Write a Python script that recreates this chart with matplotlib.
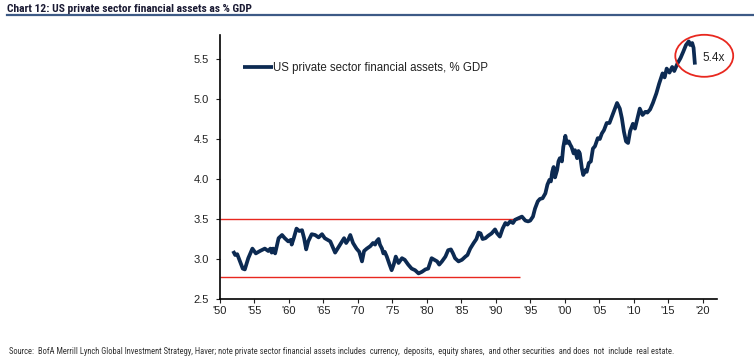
import matplotlib
matplotlib.use("Agg")
import matplotlib.pyplot as plt
from matplotlib import font_manager as fm
from matplotlib.patches import Ellipse
from matplotlib.lines import Line2D

# ---------------- data ----------------
years = [1951.9, 1952.2, 1952.5, 1952.9, 1953.3, 1953.6, 1954.1, 1954.7, 1955.2, 1955.8,
         1956.5, 1957.0, 1957.3, 1957.5, 1957.7, 1958.0, 1958.5, 1959.0, 1959.4, 1959.9,
         1960.3, 1960.4, 1960.7, 1961.1, 1961.5, 1961.9, 1962.2, 1962.5, 1962.8, 1963.3,
         1963.8, 1964.3, 1964.8, 1965.2, 1966.0, 1966.7, 1967.2, 1967.7, 1968.0, 1968.3,
         1968.6, 1968.9, 1969.3, 1969.8, 1970.2, 1970.6, 1970.9, 1971.3, 1971.8, 1972.2,
         1972.5, 1972.7, 1973.0, 1973.2, 1973.5, 1973.7, 1973.9, 1974.2, 1974.6, 1974.9,
         1975.2, 1975.5, 1975.9, 1976.4, 1976.8, 1977.3, 1977.8, 1978.3, 1978.8, 1979.3,
         1979.8, 1980.2, 1980.7, 1981.1, 1981.5, 1981.8, 1982.2, 1982.7, 1983.1, 1983.5,
         1983.8, 1984.1, 1984.6, 1985.1, 1985.6, 1985.9, 1986.3, 1986.8, 1987.2, 1987.5,
         1987.8, 1988.1, 1988.5, 1988.9, 1989.4, 1989.9, 1990.2, 1990.6, 1991.0, 1991.4,
         1991.7, 1992.1, 1992.5, 1992.8, 1993.3, 1993.8, 1994.3, 1994.7, 1995.0, 1995.4,
         1995.7, 1996.1, 1996.4, 1996.8, 1997.2, 1997.5, 1997.8, 1998.0, 1998.2, 1998.4,
         1998.6, 1998.9, 1999.1, 1999.3, 1999.6, 1999.8, 2000.1, 2000.3, 2000.6, 2000.8,
         2001.0, 2001.3, 2001.5, 2001.8, 2002.0, 2002.2, 2002.5, 2002.7, 2003.0, 2003.2,
         2003.5, 2003.8, 2004.1, 2004.4, 2004.8, 2005.1, 2005.4, 2005.7, 2006.1, 2006.5,
         2006.9, 2007.2, 2007.6, 2008.0, 2008.3, 2008.6, 2008.9, 2009.2, 2009.5, 2009.9,
         2010.2, 2010.6, 2010.9, 2011.3, 2011.7, 2012.0, 2012.4, 2012.8, 2013.3, 2013.7,
         2014.2, 2014.5, 2014.8, 2015.2, 2015.6, 2015.9, 2016.4, 2016.8, 2017.2, 2017.6,
         2018.0, 2018.2, 2018.5, 2018.7, 2018.9]
assets_gdp = [3.10, 3.05, 3.06, 2.97, 2.88, 2.87, 3.01, 3.13, 3.07, 3.10,
              3.13, 3.10, 3.13, 3.08, 3.13, 3.07, 3.26, 3.30, 3.26, 3.22,
              3.24, 3.18, 3.26, 3.38, 3.35, 3.36, 3.26, 3.12, 3.22, 3.31,
              3.30, 3.27, 3.31, 3.26, 3.22, 3.08, 3.15, 3.22, 3.26, 3.20,
              3.24, 3.30, 3.20, 3.13, 3.09, 2.97, 3.10, 3.13, 3.16, 3.20,
              3.18, 3.22, 3.25, 3.18, 3.13, 3.07, 3.09, 3.03, 2.93, 2.86,
              2.93, 3.03, 2.95, 3.01, 2.99, 2.93, 2.88, 2.86, 2.82, 2.84,
              2.87, 2.88, 3.01, 2.99, 2.97, 2.93, 2.97, 3.03, 3.11, 3.12,
              3.07, 3.01, 2.97, 2.99, 3.03, 3.05, 3.13, 3.20, 3.25, 3.33,
              3.32, 3.25, 3.26, 3.29, 3.32, 3.37, 3.32, 3.28, 3.38, 3.45,
              3.43, 3.47, 3.45, 3.49, 3.51, 3.53, 3.48, 3.47, 3.48, 3.53,
              3.63, 3.72, 3.75, 3.76, 3.82, 3.93, 3.99, 3.97, 4.09, 4.15,
              4.02, 4.11, 4.22, 4.26, 4.22, 4.40, 4.54, 4.45, 4.47, 4.43,
              4.40, 4.32, 4.36, 4.26, 4.35, 4.32, 4.13, 4.05, 4.11, 4.09,
              4.20, 4.22, 4.38, 4.41, 4.51, 4.50, 4.57, 4.61, 4.70, 4.70,
              4.79, 4.86, 4.95, 4.88, 4.76, 4.59, 4.47, 4.45, 4.60, 4.69,
              4.63, 4.77, 4.88, 4.80, 4.84, 4.83, 4.87, 4.95, 5.07, 5.19,
              5.32, 5.27, 5.38, 5.33, 5.40, 5.35, 5.45, 5.51, 5.59, 5.675,
              5.72, 5.675, 5.70, 5.64, 5.43]

series_label = "US private sector financial assets, % GDP"
x_ticks = [1950, 1955, 1960, 1965, 1970, 1975, 1980, 1985, 1990, 1995, 2000, 2005, 2010, 2015, 2020]
x_tick_labels = ["'50", "'55", "'60", "'65", "'70", "'75", "'80", "'85", "'90", "'95",
                 "'00", "'05", "'10", "'15", "'20"]
y_ticks = [2.5, 3.0, 3.5, 4.0, 4.5, 5.0, 5.5]
range_levels = [3.5, 2.78]
range_end_year = 1993.5
latest_label = "5.4x"

title = "Chart 12: US private sector financial assets as % GDP"
source = ("Source:  BofA Merrill Lynch Global Investment Strategy, Haver; note private sector financial "
          "assets includes  currency,  deposits,  equity shares,  and other securities  and does  not  include  real estate.")

# ---------------- fonts ----------------
names = {f.name for f in fm.fontManager.ttflist}
narrow = "DejaVu Sans"
for cand in ["Roboto Condensed", "Fira Sans Condensed", "PT Sans Narrow", "Asap Condensed",
             "Archivo Narrow", "Barlow Semi Condensed", "Liberation Sans Narrow"]:
    if cand in names:
        narrow = cand
        break
plt.rcParams["font.family"] = ["Liberation Sans", "DejaVu Sans"]

NAVY = "#0c2a52"
RED = "#e8281f"

fig = plt.figure(figsize=(7.54, 3.62), dpi=100)
ax = fig.add_axes([220 / 754, 63 / 362, 497 / 754, 264 / 362])

ax.plot(years, assets_gdp, color=NAVY, lw=2.7, solid_joinstyle="round", solid_capstyle="butt",
        label=series_label, zorder=3)
for lvl in range_levels:
    ax.hlines(lvl, 1950, range_end_year, color=RED, lw=1.0, zorder=2)

ax.set_xlim(1950, 2022.1)
ax.set_ylim(2.5, 5.8)
ax.set_xticks(x_ticks)
ax.set_xticklabels(x_tick_labels)
ax.set_yticks(y_ticks)
ax.set_yticklabels([f"{v:.1f}" for v in y_ticks])
for s in ["top", "right"]:
    ax.spines[s].set_visible(False)
for s in ["left", "bottom"]:
    ax.spines[s].set_linewidth(1.2)
    ax.spines[s].set_color("black")
ax.tick_params(axis="both", direction="out", length=3, width=0.8, labelsize=8, colors="#222222")
ax.tick_params(axis="y", pad=5)
ax.tick_params(axis="x", pad=2)

# circle annotation around latest value
last_year = years[-1]
ell = Ellipse((last_year + 1.35, 5.54), width=8.4, height=0.525, fill=False, edgecolor=RED,
              lw=1.3, clip_on=False, zorder=4)
ax.add_patch(ell)
ax.text(last_year + 1.05, 5.51, latest_label, fontsize=8.5, color="#222222", ha="left", va="center",
        clip_on=False)

leg = ax.legend(loc="center left", bbox_to_anchor=(0.046, 0.876), frameon=False, fontsize=8.3,
                handlelength=2.6, handletextpad=0.05, borderaxespad=0, borderpad=0)
for t in leg.get_texts():
    t.set_color("#222222")

# title and rule
t_title = fig.text(7 / 754, 1 - 9.0 / 362, title, fontsize=9, fontweight="bold",
                   family=[narrow, "DejaVu Sans"], color="#1a1a33", ha="left", va="center")
fig.add_artist(Line2D([7 / 754, 1.0], [1 - 14.5 / 362, 1 - 14.5 / 362], color="#3d5a86", lw=1.6))

t_src = fig.text(9 / 754, 1 - 351 / 362, source, fontsize=6.3, family=[narrow, "DejaVu Sans"],
                 color="#333333", ha="left", va="center")

# fit text widths to the reference widths
fig.canvas.draw()
r = fig.canvas.get_renderer()
for t, target in [(t_title, 245.0), (t_src, 669.0)]:
    w = t.get_window_extent(r).width
    t.set_fontsize(t.get_fontsize() * target / w)

fig.savefig("out.png", dpi=100)
